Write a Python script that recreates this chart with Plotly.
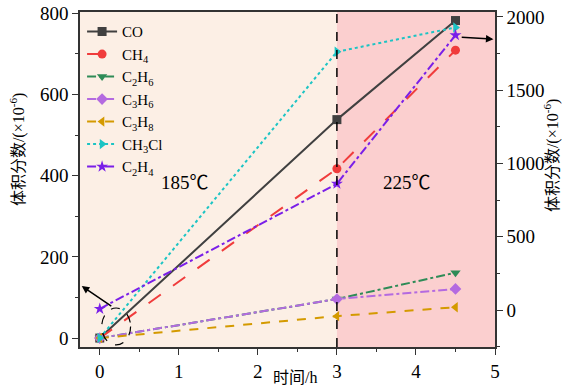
import plotly.graph_objects as go

time_h = [0, 3, 4.5]
co = [0, 538, 782]
ch4 = [0, 417, 709]
c2h6 = [0, 96, 161]
c3h6 = [0, 96, 121]
c3h8 = [0, 54, 76]
ch3cl = [0, 705, 765]
c2h4 = [72, 380, 746]

names = ["CO", "CH<sub>4</sub>", "C<sub>2</sub>H<sub>6</sub>", "C<sub>3</sub>H<sub>6</sub>",
         "C<sub>3</sub>H<sub>8</sub>", "CH<sub>3</sub>Cl", "C<sub>2</sub>H<sub>4</sub>"]
series = [co, ch4, c2h6, c3h6, c3h8, ch3cl, c2h4]
colors = ["#404040", "#f03c3c", "#2e8b57", "#b46ae0", "#d49a00", "#1cc4c4", "#7a1fe8"]
dashes = ["solid", "longdash", "dashdot", "dashdot", "dash", "dot", "dashdot"]
symbols = ["square", "circle", "triangle-down", "diamond", "triangle-left", "triangle-right", "star"]

SERIF = "Times New Roman, Liberation Serif, serif"
MIXED = "Times New Roman, Liberation Serif, Noto Sans CJK SC, serif"
YTITLE = "体积分数/(×10<sup>-6</sup>)"

fig = go.Figure()
for n, s, c, d, m in zip(names, series, colors, dashes, symbols):
    fig.add_trace(go.Scatter(x=time_h, y=s, name=n, mode="lines+markers",
                             line=dict(color=c, dash=d, width=2),
                             marker=dict(symbol=m, size=9, color=c)))
fig.add_trace(go.Scatter(x=[None], y=[None], yaxis="y2", showlegend=False))

fig.add_shape(type="rect", xref="x", yref="paper", x0=-0.25, x1=3, y0=0, y1=1,
              fillcolor="#fcefe5", line_width=0, layer="below")
fig.add_shape(type="rect", xref="x", yref="paper", x0=3, x1=5, y0=0, y1=1,
              fillcolor="#fbcfcf", line_width=0, layer="below")
fig.add_shape(type="line", xref="x", yref="paper", x0=3, x1=3, y0=0, y1=1,
              line=dict(color="black", width=1.5, dash="dash"))
fig.add_shape(type="circle", xref="x", yref="y", x0=0.025, x1=0.39, y0=-17, y1=74,
              line=dict(color="black", width=1.2, dash="dash"))

fig.add_annotation(x=-0.228, y=128, ax=0.165, ay=76, xref="x", yref="y", axref="x", ayref="y",
                   text="", showarrow=True, arrowhead=2, arrowsize=1, arrowwidth=1.5, arrowcolor="black")
fig.add_annotation(x=4.98, y=736, ax=4.56, ay=741, xref="x", yref="y", axref="x", ayref="y",
                   text="", showarrow=True, arrowhead=2, arrowsize=1, arrowwidth=1.5, arrowcolor="black")
fig.add_annotation(x=1.08, y=383, xref="x", yref="y", text="185℃", showarrow=False,
                   font=dict(family=MIXED, size=19, color="black"))
fig.add_annotation(x=3.89, y=383, xref="x", yref="y", text="225℃", showarrow=False,
                   font=dict(family=MIXED, size=19, color="black"))

# axis titles as annotations (positioned like the reference)
fig.add_annotation(x=0.518, y=-0.0925, xref="paper", yref="paper", text="时间/h", showarrow=False,
                   xanchor="center", yanchor="middle", font=dict(family=MIXED, size=16, color="black"))
fig.add_annotation(x=-0.15, y=0.59, xref="paper", yref="paper", text=YTITLE, showarrow=False,
                   textangle=-90, xanchor="center", yanchor="middle",
                   font=dict(family=MIXED, size=16, color="black"))
fig.add_annotation(x=1.135, y=0.57, xref="paper", yref="paper", text=YTITLE, showarrow=False,
                   textangle=-90, xanchor="center", yanchor="middle",
                   font=dict(family=MIXED, size=16, color="black"))

axis_common = dict(showline=True, linecolor="#333333", linewidth=1.5, ticks="outside",
                   ticklen=6, tickcolor="#333333", showgrid=False, zeroline=False,
                   automargin=False,
                   tickfont=dict(family=SERIF, size=19, color="black"))

fig.update_layout(
    width=573, height=388,
    margin=dict(l=80, r=78, t=12, b=41),
    paper_bgcolor="white", plot_bgcolor="white",
    font=dict(family=MIXED, color="black"),
    xaxis=dict(range=[-0.25, 5], tickvals=[0, 1, 2, 3, 4, 5], mirror=True,
               minor=dict(ticks="outside", ticklen=3, tickcolor="#333333", dtick=0.5),
               **axis_common),
    yaxis=dict(range=[-22, 803], tickvals=[0, 200, 400, 600, 800], mirror=True,
               minor=dict(ticks="outside", ticklen=3, tickcolor="#333333", dtick=100),
               **axis_common),
    yaxis2=dict(range=[-252, 2034], tickvals=[0, 500, 1000, 1500, 2000], overlaying="y", side="right",
                minor=dict(ticks="outside", ticklen=3, tickcolor="#333333", dtick=250),
                **axis_common),
    legend=dict(x=0.005, y=0.99, xanchor="left", yanchor="top", bgcolor="rgba(0,0,0,0)",
                font=dict(family=SERIF, size=15, color="black"), itemwidth=30),
)

fig.write_html("out.html", post_script="document.body.style.margin='0';",
               config={"displayModeBar": False})
